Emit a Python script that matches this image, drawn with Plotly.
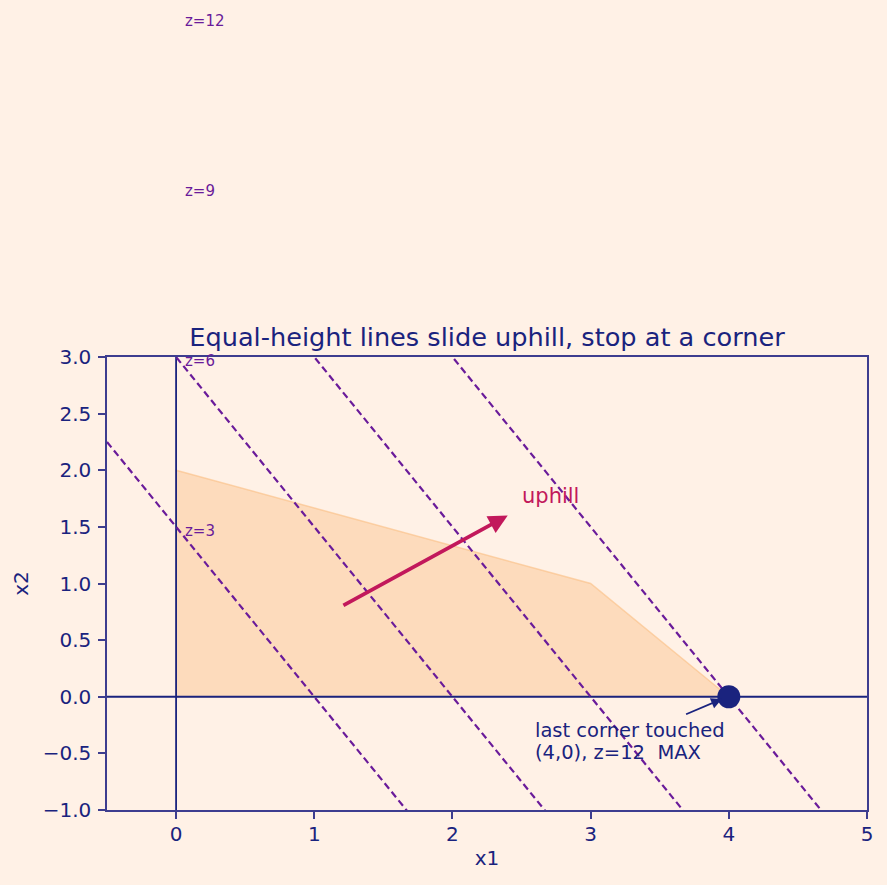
import numpy as np
import plotly.graph_objects as go

# ---- data ----
z_levels = [3, 6, 9, 12]
coef_x1, coef_x2 = 3, 2
region_x1 = [0, 0, 3, 4, 0]
region_x2 = [0, 2, 1, 0, 0]
optimum = (4, 0)
arrow_start = (1.2, 0.8)
arrow_end = (2.4, 1.6)
uphill_label_pos = (2.49, 1.77)
note_lines = ["last corner touched", "(4,0), z=12  MAX"]
note_x = 2.58
note_line_y = [-0.30, -0.49]
note_arrow_tail = (3.68, -0.16)
note_arrow_head = (3.95, -0.02)
z_label_x = 0.05
z_label_dy = -0.035
x_range = [-0.5, 5]
y_range = [-1, 3]
x_ticks = [0, 1, 2, 3, 4, 5]
y_ticks = [-1.0, -0.5, 0.0, 0.5, 1.0, 1.5, 2.0, 2.5, 3.0]

BG = "#FFF1E6"
NAVY = "#1A237E"
PURPLE = "#6A1B9A"
CRIMSON = "#C2185B"
FONT = "DejaVu Sans"

fig = go.Figure()

# feasible region
fig.add_trace(go.Scatter(x=region_x1, y=region_x2, fill="toself", mode="lines",
                         fillcolor="rgba(252,205,160,0.6)",
                         line=dict(color="rgba(250,190,130,0.6)", width=1.5),
                         hoverinfo="skip", showlegend=False))

# axes lines through origin
fig.add_trace(go.Scatter(x=x_range, y=[0, 0], mode="lines",
                         line=dict(color=NAVY, width=1.8), showlegend=False, hoverinfo="skip"))
fig.add_trace(go.Scatter(x=[0, 0], y=y_range, mode="lines",
                         line=dict(color=NAVY, width=1.8), showlegend=False, hoverinfo="skip"))

# iso lines
xs = np.array(x_range)
for z in z_levels:
    fig.add_trace(go.Scatter(x=xs, y=(z - coef_x1 * xs) / coef_x2, mode="lines",
                             line=dict(color=PURPLE, width=2.2, dash="7px,4px"),
                             showlegend=False, hoverinfo="skip"))

# z labels: paper coordinates derived from the data scale so they may sit above the plot
def to_paper(v, rng):
    return (v - rng[0]) / (rng[1] - rng[0])

for z in z_levels:
    fig.add_annotation(x=to_paper(z_label_x, x_range),
                       y=to_paper(z / coef_x2 + z_label_dy, y_range),
                       xref="paper", yref="paper", text=f"z={z}", showarrow=False,
                       xanchor="left", yanchor="middle",
                       font=dict(color=PURPLE, size=15, family=FONT))

# optimum marker
fig.add_trace(go.Scatter(x=[optimum[0]], y=[optimum[1]], mode="markers",
                         marker=dict(color=NAVY, size=23), cliponaxis=False,
                         showlegend=False, hoverinfo="skip"))

# uphill arrow
fig.add_annotation(x=arrow_end[0], y=arrow_end[1], ax=arrow_start[0], ay=arrow_start[1],
                   xref="x", yref="y", axref="x", ayref="y", text="",
                   showarrow=True, arrowhead=2, arrowsize=1.0, arrowwidth=3.8,
                   arrowcolor=CRIMSON)
fig.add_annotation(x=uphill_label_pos[0], y=uphill_label_pos[1], xref="x", yref="y",
                   text="uphill", showarrow=False, xanchor="left", yanchor="middle",
                   font=dict(color=CRIMSON, size=21, family=FONT))

# note
for line_text, ly in zip(note_lines, note_line_y):
    fig.add_annotation(x=note_x, y=ly, xref="x", yref="y",
                       text=line_text, showarrow=False,
                       xanchor="left", yanchor="middle", align="left",
                       font=dict(color=NAVY, size=19.5, family=FONT))
fig.add_annotation(x=note_arrow_head[0], y=note_arrow_head[1],
                   ax=note_arrow_tail[0], ay=note_arrow_tail[1],
                   xref="x", yref="y", axref="x", ayref="y", text="",
                   showarrow=True, arrowhead=2, arrowsize=1.2, arrowwidth=1.8,
                   arrowcolor=NAVY)

axis_common = dict(showgrid=False, zeroline=False, showline=True, mirror=True,
                   linecolor="#3D3D8F", linewidth=1.5, ticks="outside", ticklen=7,
                   tickwidth=1.5, tickcolor="#3D3D8F",
                   tickfont=dict(color=NAVY, size=20, family=FONT),
                   title_font=dict(color=NAVY, size=20, family=FONT))

fig.update_xaxes(range=x_range, tickvals=x_ticks, title_text="x1", title_standoff=6,
                 ticklabelstandoff=-2, **axis_common)
fig.update_yaxes(range=y_range, tickvals=y_ticks, tickformat=".1f", title_text="x2",
                 title_standoff=9, ticklabelstandoff=3, **axis_common)

fig.update_layout(
    width=887, height=885,
    paper_bgcolor=BG, plot_bgcolor=BG,
    margin=dict(l=107, r=20, t=357, b=75),
    title=dict(text="Equal-height lines slide uphill, stop at a corner",
               xref="paper", x=0.5, xanchor="center", y=1 - 337 / 885, yanchor="middle",
               font=dict(color=NAVY, size=25.6, family=FONT)),
    font=dict(family=FONT),
)

fig.write_html("out.html")
